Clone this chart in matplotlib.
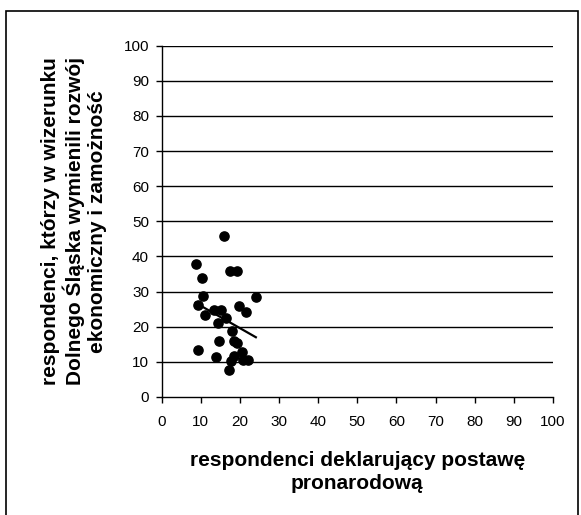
import matplotlib
matplotlib.use("Agg")
import matplotlib.pyplot as plt
import numpy as np
from matplotlib.patches import Rectangle

plt.rcParams['font.family'] = ['Liberation Sans', 'DejaVu Sans']

x_vals = [16.0, 8.7, 10.3, 17.5, 19.4, 10.7, 24.1, 9.4, 13.5, 15.2, 19.7, 21.7, 11.0, 16.4,
          14.4, 18.0, 14.7, 18.4, 19.2, 9.4, 20.5, 14.0, 18.4, 17.8, 20.9, 22.2, 17.2]
y_vals = [45.9, 38.0, 34.0, 35.8, 35.8, 28.8, 28.5, 26.2, 24.9, 24.9, 25.8, 24.3, 23.4, 22.6,
          21.1, 18.8, 16.0, 16.0, 15.3, 13.3, 12.9, 11.4, 11.6, 10.2, 10.5, 10.5, 7.7]
ticks = [0, 10, 20, 30, 40, 50, 60, 70, 80, 90, 100]
xlabel = "respondenci deklarujący postawę\npronarodową"
ylabel = "respondenci, którzy w wizerunku\nDolnego Śląska wymienili rozwój\nekonomiczny i zamożność"

W, H = 581, 515
fig = plt.figure(figsize=(W / 100, H / 100), dpi=100)
fig.patches.append(Rectangle((5.5 / W, -0.01), (578 - 5.5) / W, (H - 10.5) / H + 0.01,
                             transform=fig.transFigure, fill=False, edgecolor='black',
                             linewidth=1.2))

left, right = 161.5 / W, 553 / W
bottom, top = (H - 397) / H, (H - 45.7) / H
ax = fig.add_axes([left, bottom, right - left, top - bottom])

ax.set_xlim(0, 100)
ax.set_ylim(0, 100)
ax.set_xticks(ticks)
ax.set_yticks(ticks)
for t in ticks[1:]:
    ax.axhline(t, color='black', linewidth=1.0, zorder=1)

ax.scatter(x_vals, y_vals, s=44, color='black', zorder=3)

xa = np.array(x_vals)
ya = np.array(y_vals)
m, b = np.polyfit(xa, ya, 1)
xl = np.array([xa.min(), xa.max()])
ax.plot(xl, m * xl + b, color='black', linewidth=1.6, zorder=4)

for s in ['top', 'right']:
    ax.spines[s].set_visible(False)
for s in ['left', 'bottom']:
    ax.spines[s].set_color('black')
    ax.spines[s].set_linewidth(1.0)
ax.tick_params(direction='out', length=4, width=1, labelsize=11)
ax.tick_params(axis='x', pad=9)
ax.tick_params(axis='y', pad=5)

ax.set_xlabel(xlabel, fontsize=15, fontweight='bold', labelpad=16, linespacing=1.25)
ax.set_ylabel(ylabel, fontsize=15, fontweight='bold', labelpad=12, linespacing=1.17)

fig.savefig("out.png", dpi=100)
